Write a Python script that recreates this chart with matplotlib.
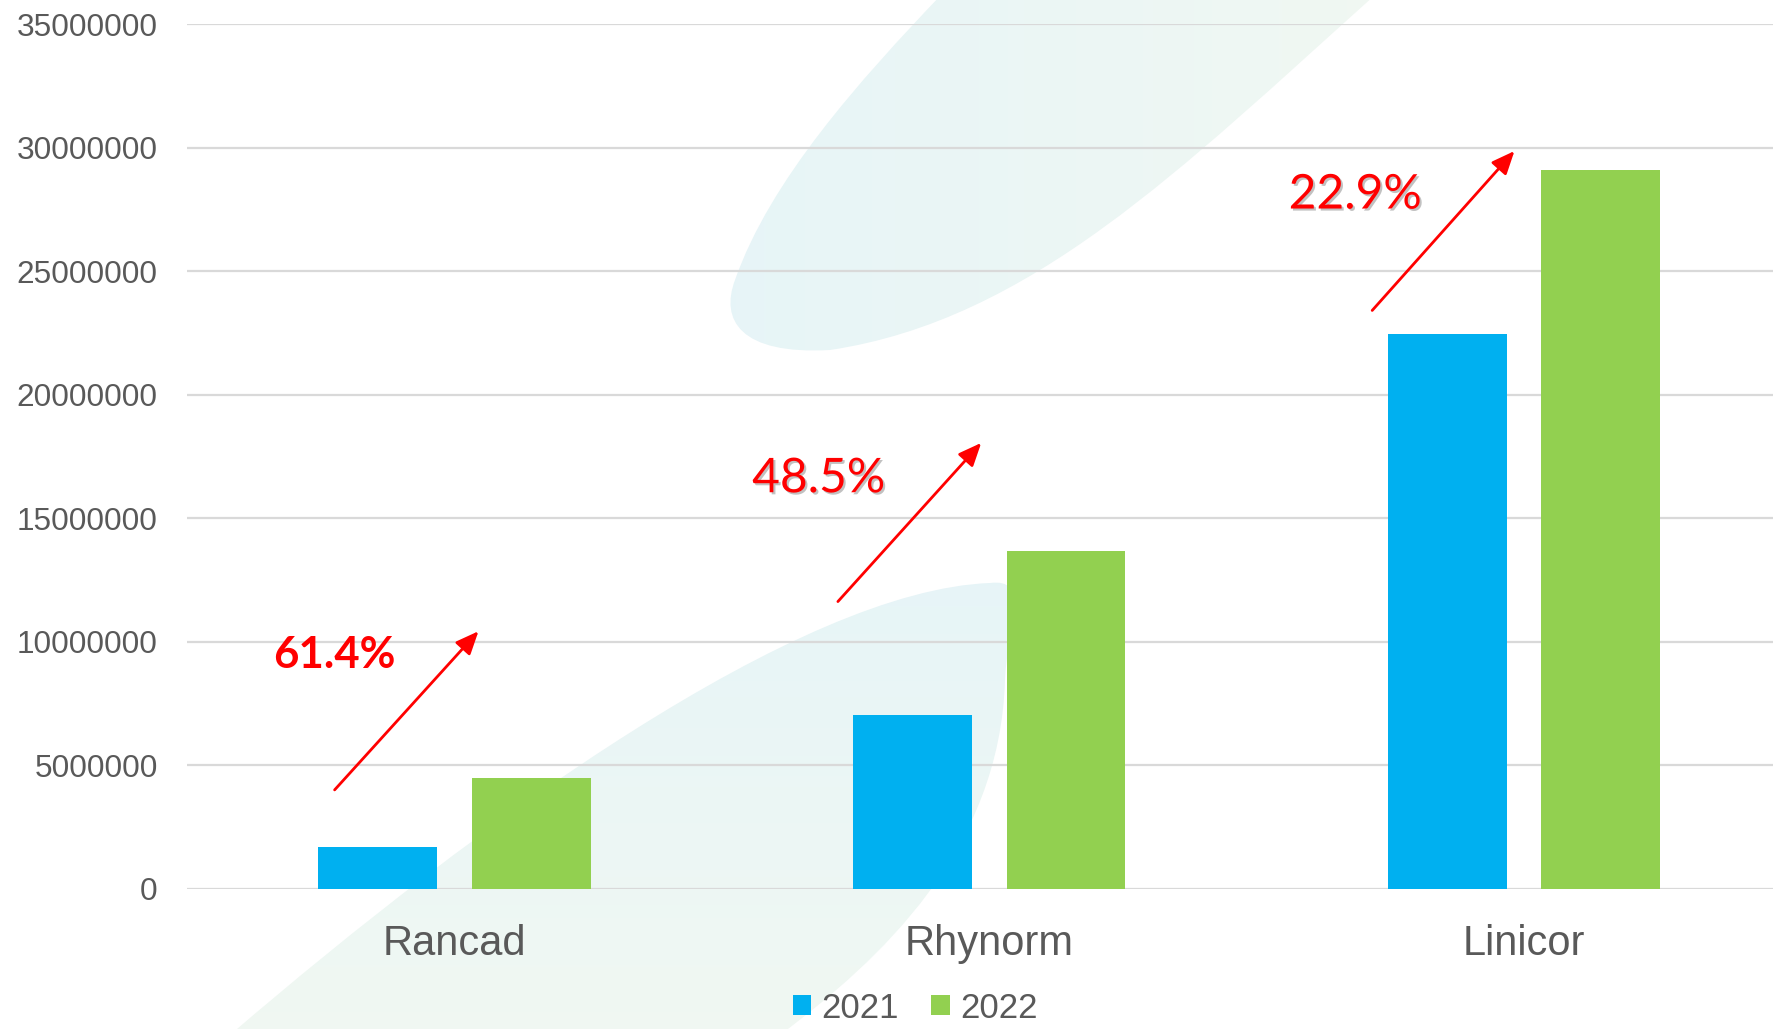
import numpy as np
import matplotlib
matplotlib.use('Agg')
import matplotlib.pyplot as plt
import matplotlib.patheffects as pe
from matplotlib.path import Path
from matplotlib.patches import PathPatch
from matplotlib.ticker import FuncFormatter

# data
categories = ['Rancad', 'Rhynorm', 'Linicor']
years = ['2021', '2022']
values_2021 = [1.71e6, 7.05e6, 22.44e6]
values_2022 = [4.49e6, 13.68e6, 29.11e6]
growth_labels = ['61.4%', '48.5%', '22.9%']

# annotation placement (data coords): text centre, arrow tail, arrow head
label_pos = [(-0.224, 9.45e6), (0.681, 16.62e6), (1.684, 28.1e6)]
arrow_tail = [(-0.224, 4.01e6), (0.717, 11.63e6), (1.716, 23.41e6)]
arrow_head = [(0.045, 10.43e6), (0.985, 18.05e6), (1.982, 29.86e6)]
label_bold = [True, False, False]

BLUE = '#00B0F0'
GREEN = '#92D050'
GREY = '#595959'
W, H = 1774, 1029

plt.rcParams['font.family'] = ['Liberation Sans', 'DejaVu Sans']
fig = plt.figure(figsize=(W / 100, H / 100), dpi=100)
fig.patch.set_facecolor('white')

# faint background swooshes (pixel coords, y pointing down)
bg = fig.add_axes([0, 0, 1, 1], zorder=-1)
bg.axis('off')

top_shape = Path(
    [(941, -5), (1375, -5),
     (1180, 170), (1030, 320), (830, 350),
     (740, 355), (720, 320), (735, 280),
     (770, 180), (860, 80), (941, -5),
     (941, -5)],
    [Path.MOVETO, Path.LINETO,
     Path.CURVE4, Path.CURVE4, Path.CURVE4,
     Path.CURVE4, Path.CURVE4, Path.CURVE4,
     Path.CURVE4, Path.CURVE4, Path.CURVE4,
     Path.CLOSEPOLY])
bottom_shape = Path(
    [(230, 1035),
     (480, 820), (800, 590), (990, 583),
     (1030, 578), (1008, 620), (1005, 680),
     (1000, 850), (880, 960), (780, 1035),
     (230, 1035)],
    [Path.MOVETO,
     Path.CURVE4, Path.CURVE4, Path.CURVE4,
     Path.CURVE4, Path.CURVE4, Path.CURVE4,
     Path.CURVE4, Path.CURVE4, Path.CURVE4,
     Path.CLOSEPOLY])

c_blue = np.array([0.905, 0.960, 0.970])
c_green = np.array([0.943, 0.972, 0.950])
gx = np.linspace(0, 1, 256)
ramp = c_blue[None, :] * (1 - gx[:, None]) + c_green[None, :] * gx[:, None]

patch = PathPatch(top_shape, facecolor='none', edgecolor='none')
bg.add_patch(patch)
im = bg.imshow(ramp[None, :, :], extent=[720, 1380, 360, -5], aspect='auto')
im.set_clip_path(patch)

patch2 = PathPatch(bottom_shape, facecolor='none', edgecolor='none')
bg.add_patch(patch2)
im2 = bg.imshow(ramp[:, None, :], extent=[220, 1040, 1035, 575], aspect='auto')
im2.set_clip_path(patch2)
bg.set_xlim(0, W)
bg.set_ylim(H, 0)

# main chart
ax = fig.add_axes([187 / W, 1 - 889 / H, (1791.5 - 187) / W, 865 / H])
ax.set_facecolor('none')
x = np.arange(len(categories))
bw = 0.222
ax.bar(x - 0.1435, values_2021, bw, color=BLUE, label=years[0], zorder=3)
ax.bar(x + 0.1435, values_2022, bw, color=GREEN, label=years[1], zorder=3)

ax.set_xlim(-0.5, 2.5)
ax.set_ylim(0, 35e6)
ax.set_yticks(np.arange(0, 35e6 + 1, 5e6))
ax.yaxis.set_major_formatter(FuncFormatter(lambda v, _: f'{int(v)}'))
ax.set_xticks(x)
ax.set_xticklabels(categories)
ax.yaxis.grid(True, color='#d9d9d9', linewidth=1.6)
ax.set_axisbelow(True)
for s in ax.spines.values():
    s.set_visible(False)
ax.tick_params(axis='y', length=0, pad=21, labelsize=22.7, labelcolor=GREY)
ax.tick_params(axis='x', length=0, pad=25, labelsize=30, labelcolor=GREY)

for lbl, pos, tail, head, bold in zip(growth_labels, label_pos, arrow_tail, arrow_head, label_bold):
    ax.annotate('', xy=head, xytext=tail,
                arrowprops=dict(arrowstyle='-|>,head_length=0.7,head_width=0.3',
                                mutation_scale=20, color='red', lw=2.0,
                                shrinkA=0, shrinkB=0), zorder=4)
    effects = [] if bold else [pe.SimplePatchShadow(offset=(1.5, -1.5), shadow_rgbFace='#777777', alpha=0.45),
                               pe.Normal()]
    ax.text(pos[0], pos[1], lbl, color='red', family=['Lato', 'DejaVu Sans'],
            fontsize=31.5 if bold else 34.5, fontweight='bold' if bold else 'normal',
            ha='center', va='center', path_effects=effects, zorder=4)

fig.legend(loc='center', bbox_to_anchor=(915 / W, 1 - 1008 / H), ncol=2, frameon=False,
           fontsize=25, labelcolor=GREY, handlelength=0.52, handleheight=0.52,
           handletextpad=0.3, columnspacing=0.95, borderpad=0)

fig.savefig('out.png', dpi=100, facecolor=fig.get_facecolor())
